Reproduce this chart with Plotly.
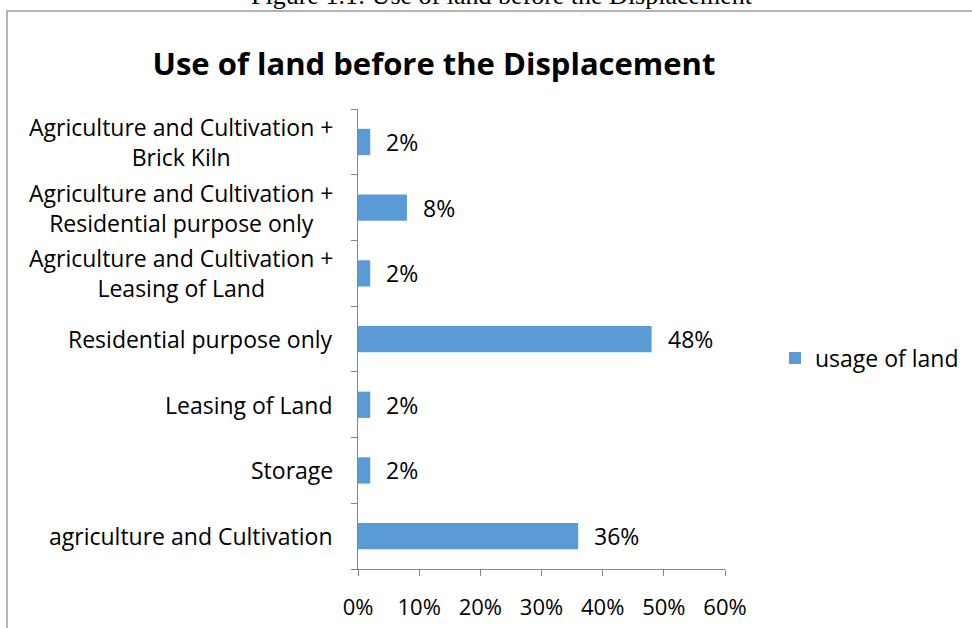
import plotly.graph_objects as go

# Land use shares (bottom to top, as stacked on the category axis)
categories = [
    "agriculture and Cultivation",
    "Storage",
    "Leasing of Land",
    "Residential purpose only",
    "Agriculture and Cultivation +<br>Leasing of Land",
    "Agriculture and Cultivation +<br>Residential purpose only",
    "Agriculture and Cultivation +<br>Brick Kiln",
]
shares = [0.36, 0.02, 0.02, 0.48, 0.02, 0.08, 0.02]
series_name = "usage of land"
x_ticks = [0, 0.1, 0.2, 0.3, 0.4, 0.5, 0.6]
x_tick_labels = ["0%", "10%", "20%", "30%", "40%", "50%", "60%"]

W, H = 972, 628
L, R, T, B = 358, 725, 109, 569  # plot area in pixels
FONT = "Open Sans"
TXT = 23
BAR = "#5B9BD5"
AXIS = "#868686"
FRAME = "#b4b4b4"


def px_x(px):
    return (px - L) / (R - L)


def px_y(py):
    return (B - py) / (B - T)


fig = go.Figure()
fig.add_trace(go.Bar(
    x=shares, y=categories, orientation="h", name=series_name,
    marker=dict(color=BAR, line=dict(width=0)),
    showlegend=True,
))

annotations = []
# value labels beside the bars
for c, v in zip(categories, shares):
    annotations.append(dict(
        x=v, y=c, xref="x", yref="y", text=f"{round(v * 100)}%",
        showarrow=False, xanchor="left", xshift=14,
        font=dict(family=FONT, size=TXT, color="#000000"),
    ))
# category labels, centred line by line
for c in categories:
    annotations.append(dict(
        x=px_x(335), y=c, xref="paper", yref="y", text=c,
        showarrow=False, xanchor="right", align="center",
        font=dict(family=FONT, size=TXT, color="#000000"),
    ))
# figure caption above the chart frame
annotations.append(dict(
    x=px_x(502), y=px_y(12), xref="paper", yref="paper",
    text="Figure 1.1: Use of land before the Displacement",
    showarrow=False, xanchor="center", yanchor="bottom",
    font=dict(family="Liberation Serif", size=26, color="#000000"),
))

fig.update_layout(
    width=W, height=H,
    margin=dict(l=L, r=W - R, t=T, b=H - B, pad=0, autoexpand=False),
    paper_bgcolor="white", plot_bgcolor="white",
    bargap=0.6,
    title=dict(
        text="<b>Use of land before the Displacement</b>",
        x=434 / W, xanchor="center",
        y=1 - 64 / H, yanchor="middle",
        font=dict(family=FONT, size=31, color="#000000"),
    ),
    xaxis=dict(
        range=[0, 0.6], tickvals=x_ticks, ticktext=x_tick_labels,
        showgrid=False, zeroline=False,
        showline=True, linecolor=AXIS, linewidth=1,
        ticks="outside", ticklen=6, tickcolor=AXIS,
        ticklabelstandoff=13,
        tickfont=dict(family=FONT, size=22, color="#000000"),
    ),
    yaxis=dict(
        categoryorder="array", categoryarray=categories,
        showgrid=False, zeroline=False,
        showline=True, linecolor=AXIS, linewidth=1,
        ticks="outside", ticklen=6, tickcolor=AXIS,
        tickson="boundaries", showticklabels=False,
    ),
    legend=dict(
        xref="container", yref="container",
        x=775 / W, y=1 - 358 / H, xanchor="left", yanchor="middle",
        font=dict(family=FONT, size=TXT, color="#000000"),
        itemwidth=30, bgcolor="rgba(0,0,0,0)",
    ),
    annotations=annotations,
    shapes=[
        dict(type="line", xref="paper", yref="paper",
             x0=px_x(6), x1=px_x(980), y0=px_y(11), y1=px_y(11),
             line=dict(color=FRAME, width=2)),
        dict(type="line", xref="paper", yref="paper",
             x0=px_x(7), x1=px_x(7), y0=px_y(11), y1=px_y(640),
             line=dict(color=FRAME, width=2)),
    ],
)

fig.write_html("out.html")
